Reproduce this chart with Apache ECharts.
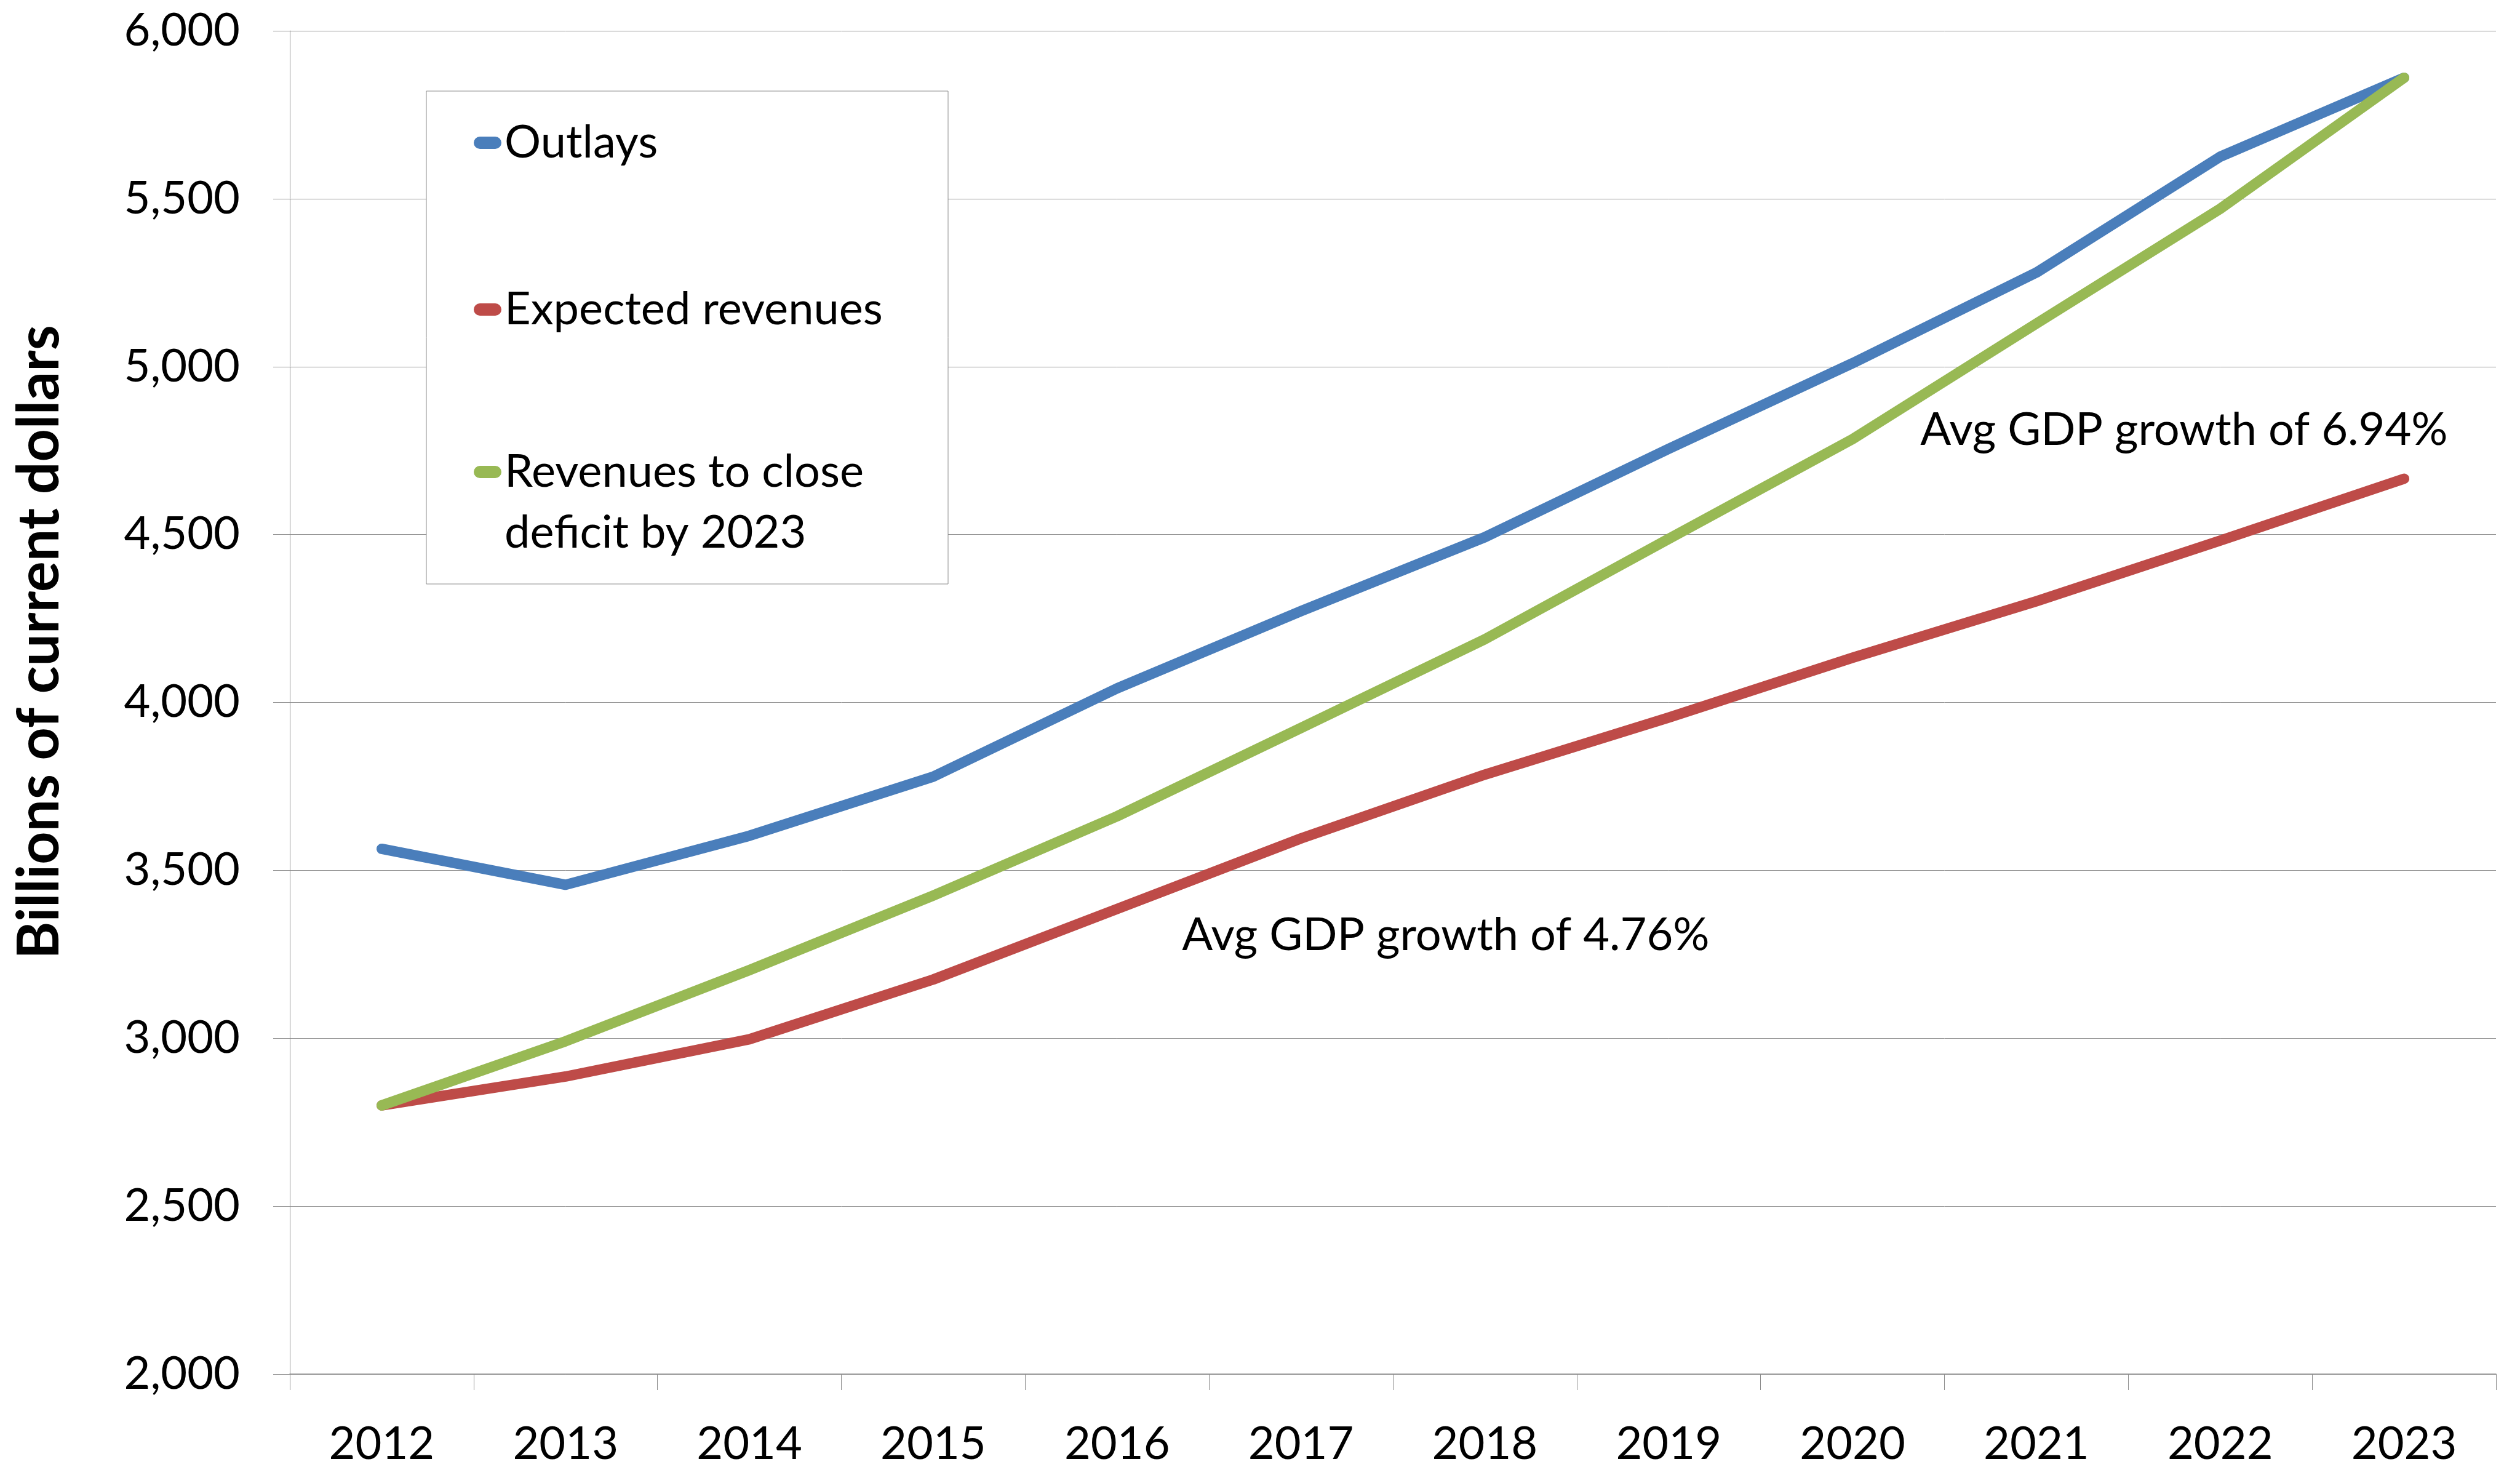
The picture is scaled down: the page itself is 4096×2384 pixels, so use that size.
<!DOCTYPE html>
<html>
<head>
<meta charset="utf-8">
<title>Outlays vs revenues 2012-2023</title>
<script src="https://cdn.jsdelivr.net/npm/echarts@6/dist/echarts.min.js"></script>
<style>
  html, body { margin: 0; padding: 0; background: #fff; }
  #chart { width: 4096px; height: 2384px; }
</style>
</head>
<body>
<div id="chart"></div>
<script>
// 横轴年份
const years = ['2012', '2013', '2014', '2015', '2016', '2017', '2018', '2019', '2020', '2021', '2022', '2023']
// 三条序列（十亿美元，按图读取）
const outlays = [3564, 3457, 3603, 3779, 4042, 4272, 4492, 4755, 5010, 5280, 5625, 5860]
const expectedRevenues = [2800, 2886, 2997, 3175, 3385, 3595, 3785, 3955, 4133, 4301, 4482, 4666]
const revenuesToClose = [2800, 2991, 3203, 3425, 3661, 3924, 4188, 4487, 4784, 5128, 5470, 5860]
// 纵轴刻度
const yMin = 2000
const yMax = 6000
const yStep = 500
// 系列名与注释
const seriesNames = ['Outlays', 'Expected revenues', 'Revenues to close\ndeficit by 2023']
const noteHigh = 'Avg GDP growth of 6.94%'
const noteLow = 'Avg GDP growth of 4.76%'

const FONT = 'Lato, "Open Sans", sans-serif'
const GRID_GREY = '#8c8c8c'
const COLORS = ['#4a7ebb', '#be4b48', '#98b954']
const LEGEND_LINE = 99
// 图例图标：圆头短线
const CAPSULE = 'path://M10,0 L35,0 A10,10 0 0 1 35,20 L10,20 A10,10 0 0 1 10,0 Z'

const chart = echarts.init(document.getElementById('chart'))

/**
 * 单项图例（每项独立定位；双行名称前加一个空行，让图标对齐首行文字）
 */
function legendItem(name, top) {
  return {
    data: [name],
    left: 770,
    top: top,
    orient: 'vertical',
    padding: 0,
    z: 10,
    icon: CAPSULE,
    itemWidth: 45,
    itemHeight: 20,
    symbolKeepAspect: false,
    itemStyle: { borderWidth: 0 },
    selectedMode: false,
    formatter: n => (n.indexOf('\n') >= 0 ? '\n' + n : n),
    textStyle: {
      fontFamily: FONT,
      fontSize: 74,
      color: '#000',
      lineHeight: LEGEND_LINE
    }
  }
}

const series = [outlays, expectedRevenues, revenuesToClose].map((values, i) => ({
  name: seriesNames[i],
  type: 'line',
  data: values,
  symbol: 'none',
  color: COLORS[i],
  lineStyle: { width: 17, color: COLORS[i], cap: 'round', join: 'round' },
  z: 3 + (i === 2 ? 1 : 0),
  animation: false
}))

chart.setOption({
  animation: false,
  backgroundColor: '#fff',
  grid: { left: 471, right: 39, top: 50, bottom: 148, containLabel: false },
  legend: [
    legendItem(seriesNames[0], 182.5),
    legendItem(seriesNames[1], 453.5),
    legendItem(seriesNames[2], 618.5)
  ],
  xAxis: {
    type: 'category',
    data: years,
    boundaryGap: true,
    axisLine: { show: true, lineStyle: { color: GRID_GREY, width: 1.5 } },
    axisTick: { show: true, length: 26, alignWithLabel: false, lineStyle: { color: GRID_GREY, width: 1 } },
    axisLabel: { fontFamily: FONT, fontSize: 74, color: '#000', margin: 77 },
    splitLine: { show: false }
  },
  yAxis: {
    type: 'value',
    min: yMin,
    max: yMax,
    interval: yStep,
    name: 'Billions of current dollars',
    nameLocation: 'middle',
    nameRotate: 90,
    nameGap: 360,
    nameTextStyle: {
      fontFamily: FONT,
      fontSize: 93,
      fontWeight: 'bold',
      color: '#000',
      padding: [0, 0, 0, 196]
    },
    axisLine: { show: true, lineStyle: { color: GRID_GREY, width: 1 } },
    axisTick: { show: true, length: 27, lineStyle: { color: GRID_GREY, width: 1 } },
    axisLabel: {
      fontFamily: FONT,
      fontSize: 74,
      color: '#000',
      margin: 81,
      formatter: v => v.toLocaleString('en-US')
    },
    splitLine: { show: true, lineStyle: { color: GRID_GREY, width: 1 } }
  },
  graphic: [
    // 图例外框（白底盖住网格线）
    {
      type: 'rect',
      z: 5,
      shape: { x: 693, y: 148, width: 848, height: 801 },
      style: { fill: '#fff', stroke: GRID_GREY, lineWidth: 1 }
    },
    {
      type: 'text',
      z: 6,
      x: 3550,
      y: 699,
      style: { text: noteHigh, font: '74px ' + FONT, fill: '#000', textAlign: 'center', textVerticalAlign: 'middle' }
    },
    {
      type: 'text',
      z: 6,
      x: 2350,
      y: 1520,
      style: { text: noteLow, font: '74px ' + FONT, fill: '#000', textAlign: 'center', textVerticalAlign: 'middle' }
    }
  ],
  series: series
})
</script>
</body>
</html>
